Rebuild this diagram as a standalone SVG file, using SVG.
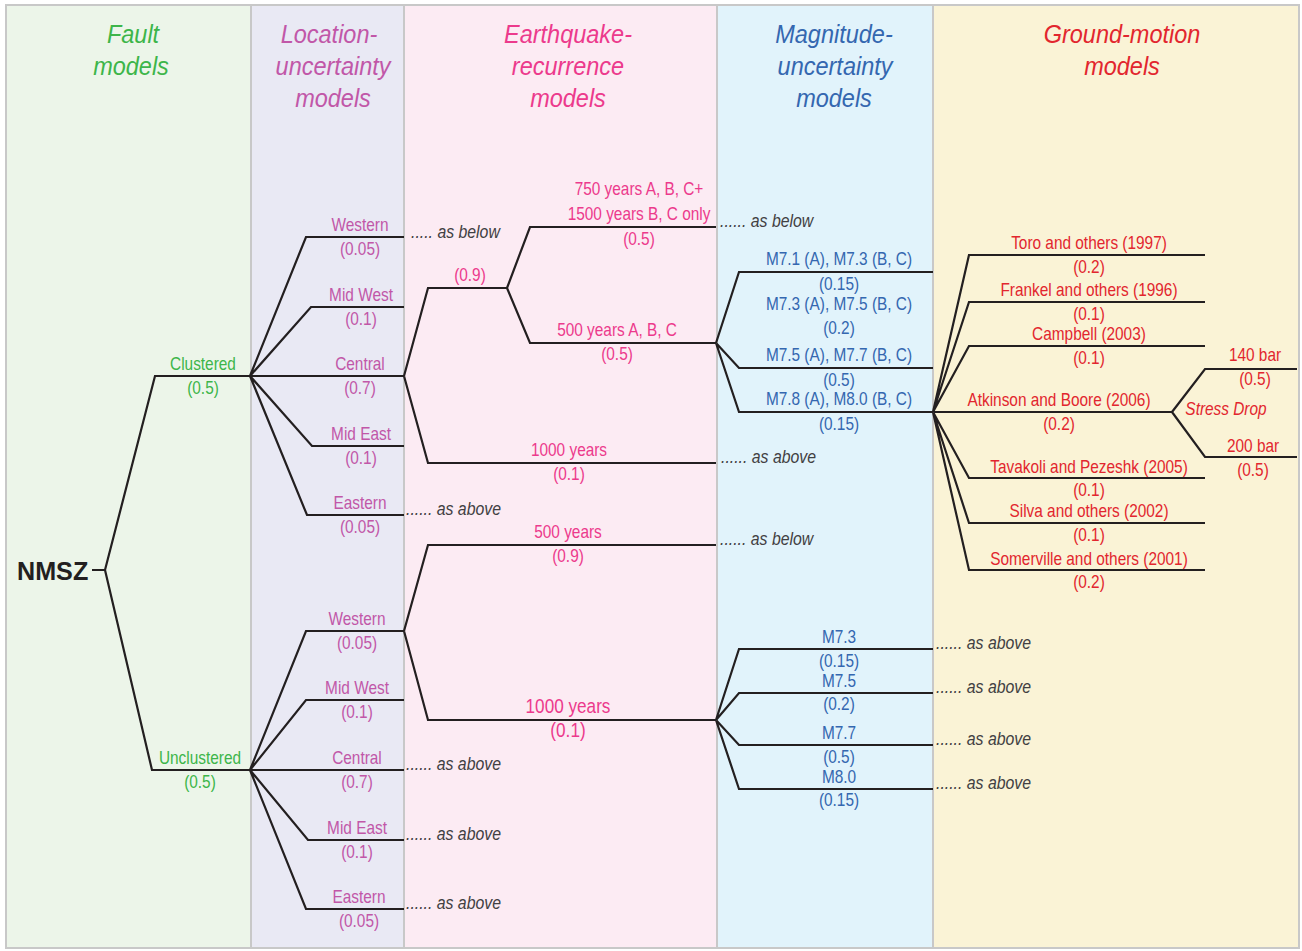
<svg xmlns="http://www.w3.org/2000/svg" width="1302" height="951" viewBox="0 0 1302 951">
<style>
.hd{font-family:"Liberation Sans",Arial,sans-serif;font-style:italic;font-size:25px;text-anchor:middle;transform-box:fill-box;transform-origin:center;transform:scaleX(0.94)}
.lb{font-family:"Liberation Sans",Arial,sans-serif;font-size:17.5px;text-anchor:middle;transform-box:fill-box;transform-origin:center;transform:scaleX(0.88)}
.big{font-size:19.5px}
.ref{font-family:"Liberation Sans",Arial,sans-serif;font-style:italic;font-size:18px;fill:#414042;transform-box:fill-box;transform-origin:0 0;transform:scaleX(0.88)}
.nm{font-family:"Liberation Sans",Arial,sans-serif;font-weight:bold;font-size:26.5px;fill:#231f20;transform-box:fill-box;transform-origin:0 0;transform:scaleX(0.95)}
.g{fill:#3db54a}.p{fill:#c157a8}.k{fill:#ec3a8c}.b{fill:#3467b0}.r{fill:#e2262e}
.ln{fill:none;stroke:#231f20;stroke-width:2.2;stroke-linejoin:miter}
.div{stroke:#c8c8c8;stroke-width:2}
</style>
<g id="background">
<rect x="6" y="5" width="245" height="943" fill="#ecf5e9"/>
<rect x="251" y="5" width="153" height="943" fill="#e9e9f4"/>
<rect x="404" y="5" width="313" height="943" fill="#fcebf3"/>
<rect x="717" y="5" width="216" height="943" fill="#e1f3fb"/>
<rect x="933" y="5" width="366" height="943" fill="#faf3d6"/>
<line class="div" x1="251" y1="5" x2="251" y2="948"/>
<line class="div" x1="404" y1="5" x2="404" y2="948"/>
<line class="div" x1="717" y1="5" x2="717" y2="948"/>
<line class="div" x1="933" y1="5" x2="933" y2="948"/>
<rect x="6" y="5" width="1293" height="943" fill="none" stroke="#c8c8c8" stroke-width="2"/>
</g>
<g id="headers">
<text class="hd g" x="133" y="43">Fault</text>
<text class="hd g" x="131" y="75">models</text>
<text class="hd p" x="329" y="43">Location-</text>
<text class="hd p" x="333" y="75">uncertainty</text>
<text class="hd p" x="333" y="107">models</text>
<text class="hd k" x="568" y="43">Earthquake-</text>
<text class="hd k" x="568" y="75">recurrence</text>
<text class="hd k" x="568" y="107">models</text>
<text class="hd b" x="834" y="43">Magnitude-</text>
<text class="hd b" x="835" y="75">uncertainty</text>
<text class="hd b" x="834" y="107">models</text>
<text class="hd r" x="1122" y="43">Ground-motion</text>
<text class="hd r" x="1122" y="75">models</text>
</g>
<g id="connectors">
<path class="ln" d="M92,570 H105 M105,570 L155,376 H250 M105,570 L152,770 H250"/>
<path class="ln" d="M250,376 L306,237 H404 M250,376 L311,307 H404 M250,376 H404 M250,376 L312,446 H404 M250,376 L307,515 H404"/>
<path class="ln" d="M250,770 L306,631 H404 M250,770 L306,700 H404 M250,770 H404 M250,770 L308,840 H404 M250,770 L306,909 H404"/>
<path class="ln" d="M404,376 L428,288 H507 M507,288 L530,227 H716 M507,288 L530,343 H716 M404,376 L428,463 H716"/>
<path class="ln" d="M404,631 L428,545 H716 M404,631 L428,720 H716"/>
<path class="ln" d="M716,343 L739,272 H933 M716,343 L739,368 H933 M716,343 L739,412 H933"/>
<path class="ln" d="M716,720 L739,649 H933 M716,720 L739,693 H933 M716,720 L739,745 H933 M716,720 L739,789 H933"/>
<path class="ln" d="M933,412 L969,255 H1205 M933,412 L969,302 H1205 M933,412 L969,346 H1205 M933,412 H1172 M933,412 L969,478 H1205 M933,412 L969,523 H1205 M933,412 L969,570 H1205"/>
<path class="ln" d="M1172,412 L1205,369 H1297 M1172,412 L1205,457 H1297"/>
</g>
<g id="node-nmsz">
<text class="nm" x="17" y="580">NMSZ</text>
</g>
<g id="fault-nodes">
<g id="clustered"><text class="lb g" x="203" y="370">Clustered</text><text class="lb g" x="203" y="394">(0.5)</text></g>
<g id="unclustered"><text class="lb g" x="200" y="764">Unclustered</text><text class="lb g" x="200" y="788">(0.5)</text></g>
</g>
<g id="location-clustered">
<g id="lc-western"><text class="lb p" x="360" y="231">Western</text><text class="lb p" x="360" y="255">(0.05)</text><text class="ref" x="411" y="238">..... as below</text></g>
<g id="lc-midwest"><text class="lb p" x="361" y="301">Mid West</text><text class="lb p" x="361" y="325">(0.1)</text></g>
<g id="lc-central"><text class="lb p" x="360" y="370">Central</text><text class="lb p" x="360" y="394">(0.7)</text></g>
<g id="lc-mideast"><text class="lb p" x="361" y="440">Mid East</text><text class="lb p" x="361" y="464">(0.1)</text></g>
<g id="lc-eastern"><text class="lb p" x="360" y="509">Eastern</text><text class="lb p" x="360" y="533">(0.05)</text><text class="ref" x="406" y="515">...... as above</text></g>
</g>
<g id="location-unclustered">
<g id="lu-western"><text class="lb p" x="357" y="625">Western</text><text class="lb p" x="357" y="649">(0.05)</text></g>
<g id="lu-midwest"><text class="lb p" x="357" y="694">Mid West</text><text class="lb p" x="357" y="718">(0.1)</text></g>
<g id="lu-central"><text class="lb p" x="357" y="764">Central</text><text class="lb p" x="357" y="788">(0.7)</text><text class="ref" x="406" y="770">...... as above</text></g>
<g id="lu-mideast"><text class="lb p" x="357" y="834">Mid East</text><text class="lb p" x="357" y="858">(0.1)</text><text class="ref" x="406" y="840">...... as above</text></g>
<g id="lu-eastern"><text class="lb p" x="359" y="903">Eastern</text><text class="lb p" x="359" y="927">(0.05)</text><text class="ref" x="406" y="909">...... as above</text></g>
</g>
<g id="recurrence-clustered">
<g id="rc-09"><text class="lb k" x="470" y="281">(0.9)</text></g>
<g id="rc-750"><text class="lb k" x="639" y="195">750 years A, B, C+</text><text class="lb k" x="639" y="220">1500 years B, C only</text><text class="lb k" x="639" y="245">(0.5)</text><text class="ref" x="720" y="227">...... as below</text></g>
<g id="rc-500"><text class="lb k" x="617" y="336">500 years A, B, C</text><text class="lb k" x="617" y="360">(0.5)</text></g>
<g id="rc-1000"><text class="lb k" x="569" y="456">1000 years</text><text class="lb k" x="569" y="480">(0.1)</text><text class="ref" x="721" y="463">...... as above</text></g>
</g>
<g id="recurrence-unclustered">
<g id="ru-500"><text class="lb k" x="568" y="538">500 years</text><text class="lb k" x="568" y="562">(0.9)</text><text class="ref" x="720" y="545">...... as below</text></g>
<g id="ru-1000"><text class="lb k big" x="568" y="713">1000 years</text><text class="lb k big" x="568" y="737">(0.1)</text></g>
</g>
<g id="magnitude-clustered">
<g id="mc-1"><text class="lb b" x="839" y="265">M7.1 (A), M7.3 (B, C)</text><text class="lb b" x="839" y="290">(0.15)</text></g>
<g id="mc-2"><text class="lb b" x="839" y="310">M7.3 (A), M7.5 (B, C)</text><text class="lb b" x="839" y="334">(0.2)</text></g>
<g id="mc-3"><text class="lb b" x="839" y="361">M7.5 (A), M7.7 (B, C)</text><text class="lb b" x="839" y="386">(0.5)</text></g>
<g id="mc-4"><text class="lb b" x="839" y="405">M7.8 (A), M8.0 (B, C)</text><text class="lb b" x="839" y="430">(0.15)</text></g>
</g>
<g id="magnitude-unclustered">
<g id="mu-73"><text class="lb b" x="839" y="643">M7.3</text><text class="lb b" x="839" y="667">(0.15)</text><text class="ref" x="936" y="649">...... as above</text></g>
<g id="mu-75"><text class="lb b" x="839" y="687">M7.5</text><text class="lb b" x="839" y="710">(0.2)</text><text class="ref" x="936" y="693">...... as above</text></g>
<g id="mu-77"><text class="lb b" x="839" y="739">M7.7</text><text class="lb b" x="839" y="763">(0.5)</text><text class="ref" x="936" y="745">...... as above</text></g>
<g id="mu-80"><text class="lb b" x="839" y="783">M8.0</text><text class="lb b" x="839" y="806">(0.15)</text><text class="ref" x="936" y="789">...... as above</text></g>
</g>
<g id="ground-motion">
<g id="gm-toro"><text class="lb r" x="1089" y="249">Toro and others (1997)</text><text class="lb r" x="1089" y="273">(0.2)</text></g>
<g id="gm-frankel"><text class="lb r" x="1089" y="296">Frankel and others (1996)</text><text class="lb r" x="1089" y="320">(0.1)</text></g>
<g id="gm-campbell"><text class="lb r" x="1089" y="340">Campbell (2003)</text><text class="lb r" x="1089" y="364">(0.1)</text></g>
<g id="gm-atkinson"><text class="lb r" x="1059" y="406">Atkinson and Boore (2006)</text><text class="lb r" x="1059" y="430">(0.2)</text></g>
<g id="gm-stress"><text class="lb r" x="1226" y="415" font-style="italic">Stress Drop</text></g>
<g id="gm-140"><text class="lb r" x="1255" y="361">140 bar</text><text class="lb r" x="1255" y="385">(0.5)</text></g>
<g id="gm-200"><text class="lb r" x="1253" y="452">200 bar</text><text class="lb r" x="1253" y="476">(0.5)</text></g>
<g id="gm-tavakoli"><text class="lb r" x="1089" y="473">Tavakoli and Pezeshk (2005)</text><text class="lb r" x="1089" y="496">(0.1)</text></g>
<g id="gm-silva"><text class="lb r" x="1089" y="517">Silva and others (2002)</text><text class="lb r" x="1089" y="541">(0.1)</text></g>
<g id="gm-somerville"><text class="lb r" x="1089" y="565">Somerville and others (2001)</text><text class="lb r" x="1089" y="588">(0.2)</text></g>
</g>
</svg>
